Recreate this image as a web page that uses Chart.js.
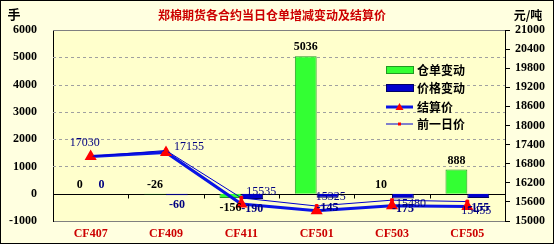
<!DOCTYPE html>
<html>
<head>
<meta charset="utf-8">
<script src="https://cdn.jsdelivr.net/npm/chart.js@4.4.0/dist/chart.umd.min.js"></script>
<style>
  html, body { margin: 0; padding: 0; background: #fff; }
</style>
</head>
<body>
<canvas id="myChart" width="555" height="250"></canvas>
<script>
let contracts = ['CF407', 'CF409', 'CF411', 'CF501', 'CF503', 'CF505'];
let receiptChange = [0, -26, -156, 5036, 10, 888];
let priceChange = [0, -60, -190, -145, -175, -155];
let settlePrice = [17030, 17155, 15535, 15325, 15480, 15455];
let prevPrice = [17030, 17215, 15725, 15470, 15655, 15610];

let serif = "'Liberation Serif', 'Times New Roman', serif";
let cjk = "'Noto Sans CJK SC', sans-serif";

// background, frame, plot fill, grid
const backdrop = {
  id: 'backdrop',
  beforeDraw(chart) {
    const ctx = chart.ctx, a = chart.chartArea;
    ctx.save();
    ctx.fillStyle = '#ffffff';
    ctx.fillRect(0, 0, chart.width, chart.height);
    ctx.fillStyle = '#FFFFE0';
    ctx.fillRect(1, 1, 552, 242);
    ctx.strokeStyle = '#000';
    ctx.lineWidth = 1;
    ctx.strokeRect(0.5, 0.5, 553, 243);
    ctx.fillStyle = '#FFFFCC';
    ctx.fillRect(a.left, a.top, a.right - a.left, a.bottom - a.top);
    ctx.restore();
  },
  beforeDatasetsDraw(chart) {
    const ctx = chart.ctx, a = chart.chartArea;
    const x = chart.scales.x, y = chart.scales.y;
    ctx.save();
    ctx.lineWidth = 1;
    // dashed grid
    ctx.strokeStyle = '#A0A0A0';
    ctx.setLineDash([3, 3]);
    ctx.beginPath();
    y.ticks.forEach(function (t) {
      if (t.value === 0 || t.value === y.min || t.value === y.max) return;
      const gy = Math.round(y.getPixelForValue(t.value)) + 0.5;
      ctx.moveTo(a.left, gy);
      ctx.lineTo(a.right, gy);
    });
    ctx.stroke();
    ctx.setLineDash([]);
    ctx.strokeStyle = '#808080';
    ctx.beginPath();
    ctx.moveTo(a.left, a.top + 0.5);
    ctx.lineTo(a.right, a.top + 0.5);
    ctx.stroke();
    // zero line with category ticks
    const y0 = Math.round(y.getPixelForValue(0)) + 0.5;
    ctx.strokeStyle = '#000';
    ctx.beginPath();
    ctx.moveTo(a.left, y0);
    ctx.lineTo(a.right, y0);
    for (let i = 0; i < contracts.length - 1; i++) {
      const bx = Math.round(x.getPixelForValue(i + 0.5)) + 0.5;
      ctx.moveTo(bx, y0);
      ctx.lineTo(bx, y0 + 4);
    }
    ctx.stroke();
    ctx.restore();
  }
};

const labels = {
  id: 'labels',
  afterDatasetsDraw(chart) {
    const ctx = chart.ctx;
    ctx.save();
    ctx.textAlign = 'center';
    ctx.font = 'bold 12px ' + serif;
    [0, 1].forEach(function (di) {
      const vals = chart.data.datasets[di].data;
      chart.getDatasetMeta(di).data.forEach(function (el, i) {
        const v = vals[i];
        ctx.fillStyle = di === 0 ? '#000000' : '#000080';
        if (v > -50) {
          ctx.textBaseline = 'bottom';
          ctx.fillText(String(v), el.x, Math.min(el.y, el.base) - 3);
        } else {
          ctx.textBaseline = 'top';
          ctx.fillText(String(v), el.x, Math.max(el.y, el.base) + 4);
        }
      });
    });
    // settlement price labels
    const offs = [[-6, -14], [23, -6], [20, -12], [14, -14], [19, -2], [9, 4]];
    ctx.font = '12px ' + serif;
    ctx.fillStyle = '#000080';
    ctx.textBaseline = 'middle';
    chart.getDatasetMeta(2).data.forEach(function (el, i) {
      ctx.fillText(String(settlePrice[i]), el.x + offs[i][0], el.y + offs[i][1]);
    });
    ctx.restore();
  },
  afterDraw(chart) {
    const ctx = chart.ctx;
    ctx.save();
    ctx.textBaseline = 'middle';
    ctx.textAlign = 'center';
    ctx.font = 'bold 12px ' + cjk;
    ctx.fillStyle = '#CC0000';
    ctx.fillText('郑棉期货各合约当日仓单增减变动及结算价', 272, 15);
    ctx.fillStyle = '#000';
    ctx.font = 'bold 13px ' + cjk;
    ctx.fillText('手', 14, 14);
    ctx.font = 'bold 12px ' + cjk;
    ctx.fillText('元/吨', 528, 15);

    // legend
    const ds = chart.data.datasets;
    const rows = [70, 88, 107, 124];
    ctx.textAlign = 'left';
    ds.forEach(function (d, i) {
      const ry = rows[i];
      if (i < 2) {
        ctx.fillStyle = d.backgroundColor;
        ctx.fillRect(386, ry - 3, 27, 6);
        ctx.strokeStyle = d.borderColor;
        ctx.lineWidth = 1;
        ctx.strokeRect(386.5, ry - 3.5, 27, 7);
      } else {
        ctx.strokeStyle = d.borderColor;
        ctx.lineWidth = d.borderWidth;
        ctx.beginPath();
        ctx.moveTo(386, ry);
        ctx.lineTo(413, ry);
        ctx.stroke();
        ctx.fillStyle = '#FF0000';
        if (i === 2) {
          ctx.beginPath();
          ctx.moveTo(399.5, ry - 4);
          ctx.lineTo(403.5, ry + 3);
          ctx.lineTo(395.5, ry + 3);
          ctx.closePath();
          ctx.fill();
        } else {
          ctx.fillRect(398, ry - 1.5, 3, 3);
        }
      }
      ctx.fillStyle = '#000';
      ctx.font = 'bold 12px ' + cjk;
      ctx.fillText(d.label, 417, ry);
    });
    ctx.restore();
  }
};

let myChart = document.getElementById('myChart').getContext('2d');
let chart = new Chart(myChart, {
  type: 'bar',
  data: {
    labels: contracts,
    datasets: [
      {
        label: '仓单变动',
        data: receiptChange,
        backgroundColor: '#33FF33',
        borderColor: '#229922',
        borderWidth: 1,
        yAxisID: 'y',
        order: 2,
      },
      {
        label: '价格变动',
        data: priceChange,
        backgroundColor: '#0000CC',
        borderColor: '#000066',
        borderWidth: 1,
        yAxisID: 'y',
        order: 3,
      },
      {
        type: 'line',
        label: '结算价',
        data: settlePrice,
        borderColor: '#0A14E6',
        borderWidth: 3,
        pointStyle: 'triangle',
        pointRadius: 4,
        pointBackgroundColor: '#FF0000',
        pointBorderColor: '#FF0000',
        yAxisID: 'y2',
        order: 1,
      },
      {
        type: 'line',
        label: '前一日价',
        data: prevPrice,
        borderColor: '#0000CC',
        borderWidth: 1,
        pointStyle: 'rect',
        pointRadius: 2,
        pointBackgroundColor: '#FF0000',
        pointBorderColor: '#FF0000',
        yAxisID: 'y2',
        order: 0,
      },
    ],
  },
  options: {
    responsive: false,
    animation: false,
    layout: { padding: { top: 30 } },
    datasets: { bar: { categoryPercentage: 0.58, barPercentage: 1 } },
    plugins: { legend: { display: false }, tooltip: { enabled: false } },
    scales: {
      x: {
        afterFit(s) { s.height = 29; },
        grid: { display: false, drawTicks: false },
        border: { display: true, color: '#808080' },
        ticks: { color: '#CC0000', font: { family: serif, size: 12, weight: 'bold' }, padding: 6 },
      },
      y: {
        position: 'left',
        min: -1000,
        max: 6000,
        afterFit(s) { s.width = 53; },
        ticks: {
          stepSize: 1000, color: '#000', padding: 16,
          font: { family: serif, size: 12, weight: 'bold' },
          callback: (v) => String(v),
        },
        grid: { display: false, drawTicks: false },
        border: { display: true, color: '#000' },
      },
      y2: {
        position: 'right',
        min: 15000,
        max: 21000,
        afterFit(s) { s.width = 50; },
        ticks: {
          stepSize: 600, color: '#000', padding: 5,
          font: { family: serif, size: 12, weight: 'bold' },
          callback: (v) => String(v),
        },
        grid: { drawOnChartArea: false, drawTicks: true, tickLength: 5, color: '#000' },
        border: { color: '#000' },
      },
    },
  },
  plugins: [backdrop, labels],
});
</script>
</body>
</html>
